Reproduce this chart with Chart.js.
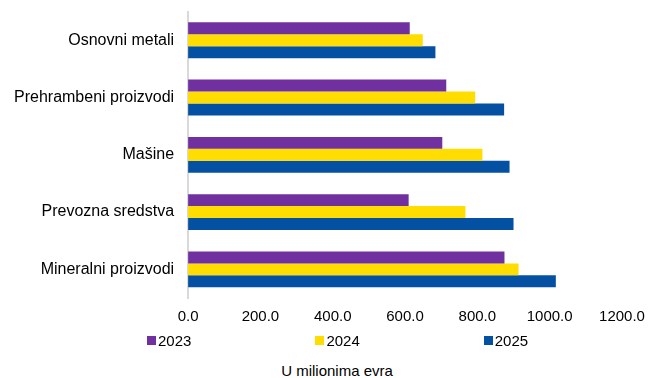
<!DOCTYPE html>
<html>
<head>
<meta charset="utf-8">
<script src="https://cdn.jsdelivr.net/npm/chart.js@4"></script>
<style>
  body { margin: 0; background: #fff; font-family: "Liberation Sans", Arial, sans-serif; }
  #wrap { position: relative; width: 670px; height: 378px; overflow: hidden; }
  #box { position: absolute; left: 0; top: -12px; width: 670px; height: 348px; }
  #legend { position: absolute; left: 147px; top: 332px; display: flex; gap: 124px; font-size: 15px; color: #000; }
  #legend .item { display: flex; align-items: center; }
  #legend .sw { width: 9px; height: 9px; margin-right: 2px; }
  #title { position: absolute; left: 0; width: 674px; top: 362px; text-align: center; font-size: 15px; color: #000; }
</style>
</head>
<body>
<div id="wrap">
  <div id="box"><canvas id="chart"></canvas></div>
  <div id="legend"></div>
  <div id="title">U milionima evra</div>
</div>
<script>
const categories = ['Osnovni metali', 'Prehrambeni proizvodi', 'Mašine', 'Prevozna sredstva', 'Mineralni proizvodi'];
const years = ['2023', '2024', '2025'];
const values2023 = [613, 714, 703, 610, 875];
const values2024 = [649, 794, 814, 767, 914];
const values2025 = [684, 874, 889, 900, 1017];
const colors = ['#7030A0', '#FFDD00', '#0450A2'];

const ctx = document.getElementById('chart').getContext('2d');
const chart = new Chart(ctx, {
  type: 'bar',
  data: {
    labels: categories,
    datasets: [values2023, values2024, values2025].map((v, i) => ({
      label: years[i],
      data: v,
      backgroundColor: colors[i],
      borderWidth: 0,
      categoryPercentage: 0.625,
      barPercentage: 1
    }))
  },
  options: {
    indexAxis: 'y',
    responsive: true,
    maintainAspectRatio: false,
    animation: false,
    layout: { padding: { left: 0, right: 48, top: 0, bottom: 0 } },
    plugins: {
      legend: { display: false },
      tooltip: { enabled: false }
    },
    scales: {
      x: {
        min: 0,
        max: 1200,
        grid: { display: false, drawTicks: false },
        border: { display: false },
        ticks: {
          stepSize: 200,
          padding: 10,
          color: '#000',
          font: { family: '"Liberation Sans", Arial', size: 15 },
          maxRotation: 0,
          callback: v => v.toFixed(1)
        }
      },
      y: {
        grid: { display: false, drawTicks: false },
        border: { display: true, color: '#d9d9d9', width: 2 },
        ticks: {
          padding: 14,
          color: '#000',
          font: { family: '"Liberation Sans", Arial', size: 16 }
        }
      }
    }
  }
});

// legend below the chart
const legend = document.getElementById('legend');
chart.data.datasets.forEach(ds => {
  const item = document.createElement('div');
  item.className = 'item';
  item.innerHTML = `<span class="sw" style="background:${ds.backgroundColor}"></span><span>${ds.label}</span>`;
  legend.appendChild(item);
});
</script>
</body>
</html>
